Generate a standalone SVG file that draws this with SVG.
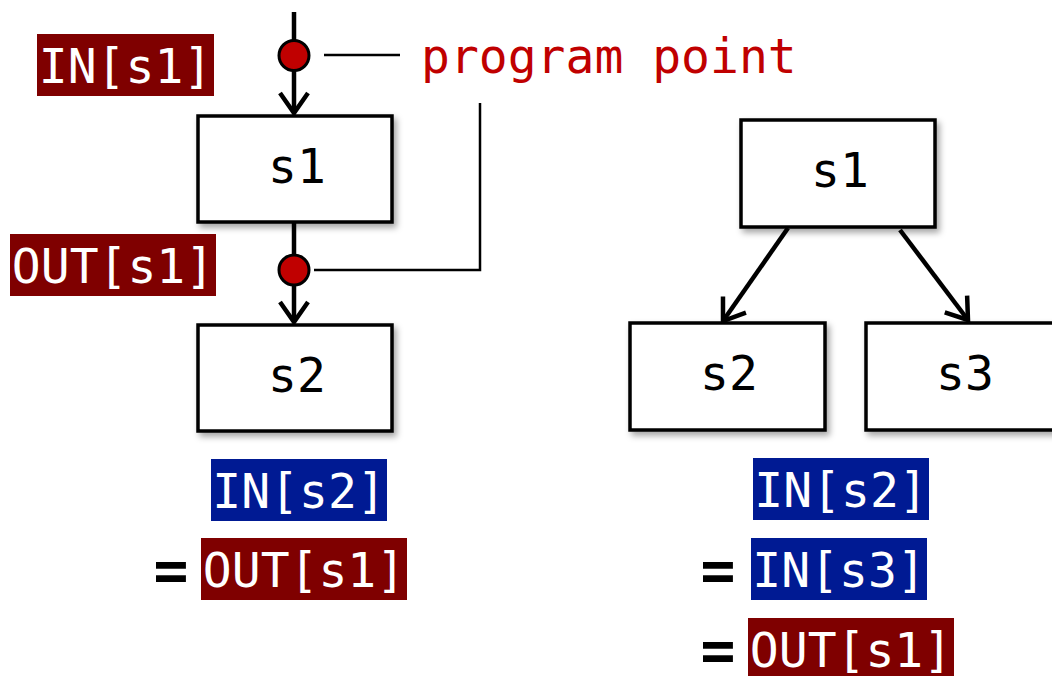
<svg xmlns="http://www.w3.org/2000/svg" width="1052" height="676" viewBox="0 0 1052 676">
<style>
.box{fill:#fff;stroke:#000;stroke-width:3.5;filter:url(#sh)}
.t{font-family:"DejaVu Sans Mono","Liberation Mono",monospace;font-size:48px}
.lbl{fill:#fff;text-anchor:middle}
.node{fill:#000;text-anchor:middle}
.red{fill:#7F0000}
.blue{fill:#001A93}
.eq{fill:#000;text-anchor:middle;font-weight:bold;font-size:58px}
.conn{stroke:#000;stroke-width:4.5;fill:none}
.thin{stroke:#000;stroke-width:2.5;fill:none}
.pt{fill:#C00000;stroke:#000;stroke-width:3}
</style>
<defs>
<filter id="sh" x="-10%" y="-10%" width="130%" height="140%">
<feDropShadow dx="3" dy="4" stdDeviation="3" flood-color="#000" flood-opacity="0.35"/>
</filter>
<marker id="ah" markerUnits="userSpaceOnUse" viewBox="-26 -20 30 40" refX="0" refY="0" markerWidth="30" markerHeight="40" orient="auto">
<path d="M-20,-14 L0,0 L-20,14" fill="none" stroke="#000" stroke-width="4.5"/>
</marker>
</defs>

<g id="connectors">
<line class="conn" x1="294" y1="12" x2="294" y2="42"/>
<line class="conn" x1="294" y1="70" x2="294" y2="113" marker-end="url(#ah)"/>
<line class="conn" x1="294" y1="222" x2="294" y2="256"/>
<line class="conn" x1="294" y1="284" x2="294" y2="322" marker-end="url(#ah)"/>
<line class="conn" x1="788" y1="228" x2="723" y2="321" marker-end="url(#ah)"/>
<line class="conn" x1="900" y1="230" x2="968" y2="320" marker-end="url(#ah)"/>
<line class="thin" x1="324" y1="55" x2="400" y2="55"/>
<polyline class="thin" points="480,103 480,270 314,270"/>
</g>

<g id="left-s1"><rect class="box" x="198" y="116" width="194" height="106"/><text class="t node" x="297" y="183">s1</text></g>
<g id="left-s2"><rect class="box" x="198" y="325" width="194" height="106"/><text class="t node" x="297" y="392">s2</text></g>
<g id="pp-in"><circle class="pt" cx="294" cy="55.5" r="15"/></g>
<g id="pp-out"><circle class="pt" cx="294" cy="270" r="15"/></g>
<g id="program-point-label"><text class="t" x="421" y="73" fill="#C00000">program point</text></g>

<g id="in-s1"><rect class="red" x="37" y="34" width="177" height="62"/><text class="t lbl" x="125.5" y="83">IN[s1]</text></g>
<g id="out-s1"><rect class="red" x="10" y="234" width="206" height="62"/><text class="t lbl" x="113" y="283">OUT[s1]</text></g>

<g id="left-eq">
<rect class="blue" x="211" y="459" width="176" height="62"/><text class="t lbl" x="299" y="508">IN[s2]</text>
<text class="t eq" x="171" y="590">=</text>
<rect class="red" x="201" y="538" width="206" height="62"/><text class="t lbl" x="304" y="587">OUT[s1]</text>
</g>

<g id="right-s1"><rect class="box" x="741" y="120" width="194" height="107"/><text class="t node" x="840" y="187">s1</text></g>
<g id="right-s2"><rect class="box" x="630" y="323" width="195" height="107"/><text class="t node" x="729" y="390">s2</text></g>
<g id="right-s3"><rect class="box" x="866" y="323" width="194" height="107"/><text class="t node" x="965" y="390">s3</text></g>

<g id="right-eq">
<rect class="blue" x="753" y="458" width="176" height="62"/><text class="t lbl" x="841" y="507">IN[s2]</text>
<text class="t eq" x="718" y="590">=</text>
<rect class="blue" x="751" y="538" width="176" height="62"/><text class="t lbl" x="839" y="587">IN[s3]</text>
<text class="t eq" x="718" y="670">=</text>
<rect class="red" x="748" y="618" width="206" height="62"/><text class="t lbl" x="851" y="667">OUT[s1]</text>
</g>
</svg>
